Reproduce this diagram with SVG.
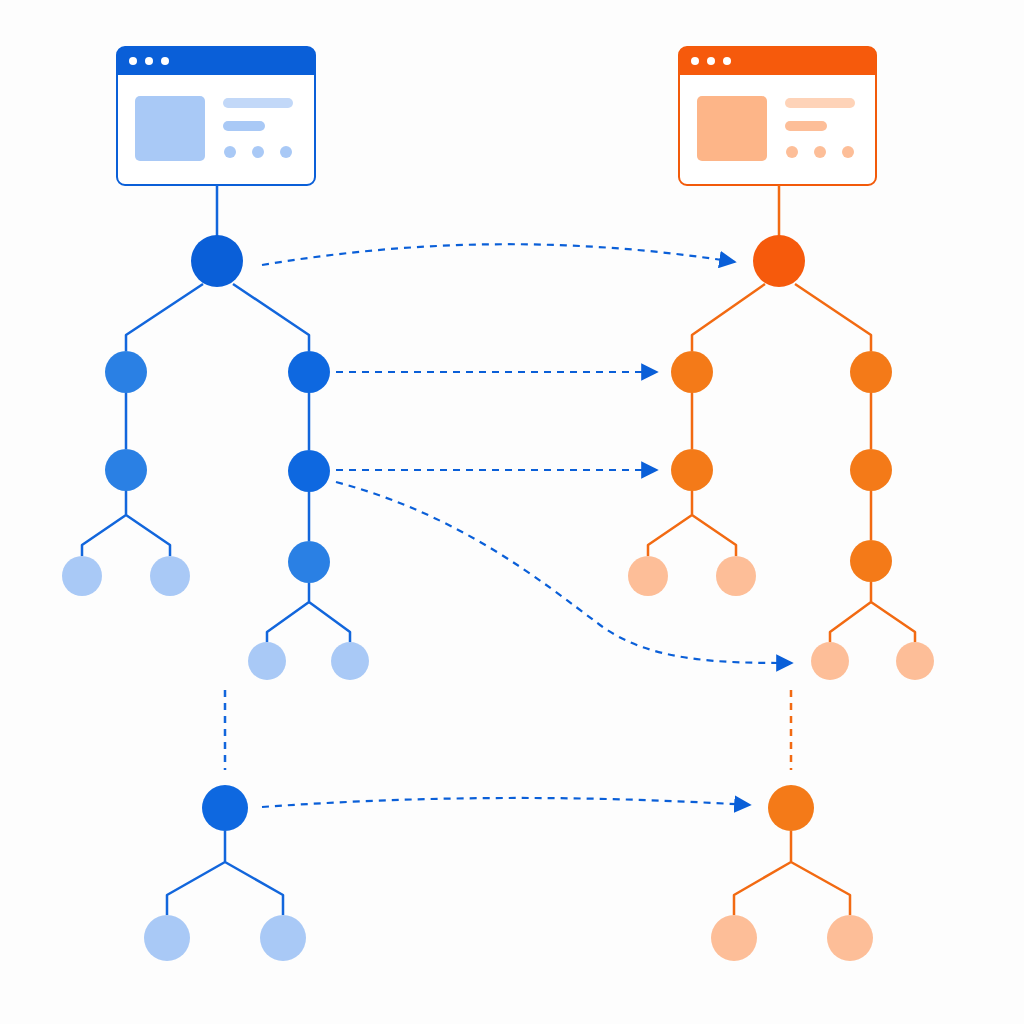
<svg xmlns="http://www.w3.org/2000/svg" width="1024" height="1024" viewBox="0 0 1024 1024">
<defs>
<marker id="ah" viewBox="0 0 10 10" refX="9" refY="5" markerWidth="8" markerHeight="8" orient="auto"><path d="M0,0L10,5L0,10z" fill="#0a5fd8"/></marker>
<style>
.bl{stroke:#1266dc;stroke-width:2.5;fill:none;stroke-linejoin:round}
.ol{stroke:#f26a12;stroke-width:2.5;fill:none;stroke-linejoin:round}
.da{stroke:#0a5fd8;stroke-width:2.2;fill:none;stroke-dasharray:7 6}
.b1{fill:#0a5fd8}.b2{fill:#2a80e4}.b3{fill:#a9c9f6}
.o1{fill:#f65a0c}.o2{fill:#f47a18}.o3{fill:#fdbe98}
</style>
</defs>
<rect width="1024" height="1024" fill="#fdfdfd"/>
<g id="left-window">
<rect x="117" y="47" width="198" height="138" rx="8" fill="#fff" stroke="#0a5fd8" stroke-width="2"/>
<path d="M125,47h182a8,8 0 0 1 8,8v20h-198v-20a8,8 0 0 1 8,-8z" fill="#0a5fd8"/>
<circle cx="133" cy="61" r="4" fill="#fff"/><circle cx="149" cy="61" r="4" fill="#fff"/><circle cx="165" cy="61" r="4" fill="#fff"/>
<rect x="135" y="96" width="70" height="65" rx="5" class="b3"/>
<rect x="223" y="98" width="70" height="10" rx="5" fill="#c2d8f8"/>
<rect x="223" y="121" width="42" height="10" rx="5" class="b3"/>
<circle cx="230" cy="152" r="6" class="b3"/><circle cx="258" cy="152" r="6" class="b3"/><circle cx="286" cy="152" r="6" class="b3"/>
</g>
<g id="right-window">
<rect x="679" y="47" width="197" height="138" rx="8" fill="#fff" stroke="#f25a0a" stroke-width="2"/>
<path d="M687,47h181a8,8 0 0 1 8,8v20h-197v-20a8,8 0 0 1 8,-8z" fill="#f65a0c"/>
<circle cx="695" cy="61" r="4" fill="#fff"/><circle cx="711" cy="61" r="4" fill="#fff"/><circle cx="727" cy="61" r="4" fill="#fff"/>
<rect x="697" y="96" width="70" height="65" rx="5" class="o3" style="fill:#fdb588"/>
<rect x="785" y="98" width="70" height="10" rx="5" fill="#fed3b8"/>
<rect x="785" y="121" width="42" height="10" rx="5" class="o3"/>
<circle cx="792" cy="152" r="6" class="o3"/><circle cx="820" cy="152" r="6" class="o3"/><circle cx="848" cy="152" r="6" class="o3"/>
</g>
<g id="tree-lines">
<path class="bl" d="M217,185V240M203,284L126,335V351M233,284L309,335V351M126,393V449M126,491V515L82,545V556M126,515L170,545V556M309,393V450M309,492V541M309,583V602L267,632V642M309,602L350,632V642M225,831V862L167,895V915M225,862L283,895V915"/>
<path class="bl" d="M225,690V770" stroke-dasharray="7 6" stroke-width="2"/>
<path class="ol" d="M779,185V240M765,284L692,335V351M795,284L871,335V351M692,393V449M692,491V515L648,545V556M692,515L736,545V556M871,393V449M871,491V540M871,582V602L830,632V642M871,602L915,632V642M791,831V862L734,895V915M791,862L850,895V915"/>
<path class="ol" d="M791,690V770" stroke-dasharray="7 6" stroke-width="2"/>
</g>
<g id="connectors">
<path class="da" d="M262,265Q500,225 735,262" marker-end="url(#ah)"/>
<path class="da" d="M336,372H657" marker-end="url(#ah)"/>
<path class="da" d="M336,470H657" marker-end="url(#ah)"/>
<path class="da" d="M336,482C460,515 540,580 600,625C650,662 720,663 792,663" marker-end="url(#ah)"/>
<path class="da" d="M262,807Q500,790 750,805" marker-end="url(#ah)"/>
</g>
<g id="left-nodes">
<circle cx="217" cy="261" r="26" class="b1"/>
<circle cx="126" cy="372" r="21" class="b2"/><circle cx="309" cy="372" r="21" class="b1" style="fill:#0e68e0"/>
<circle cx="126" cy="470" r="21" class="b2"/><circle cx="309" cy="471" r="21" class="b1" style="fill:#0e68e0"/>
<circle cx="309" cy="562" r="21" class="b2"/>
<circle cx="82" cy="576" r="20" class="b3"/><circle cx="170" cy="576" r="20" class="b3"/>
<circle cx="267" cy="661" r="19" class="b3"/><circle cx="350" cy="661" r="19" class="b3"/>
<circle cx="225" cy="808" r="23" class="b1" style="fill:#0e68e0"/>
<circle cx="167" cy="938" r="23" class="b3"/><circle cx="283" cy="938" r="23" class="b3"/>
</g>
<g id="right-nodes">
<circle cx="779" cy="261" r="26" class="o1"/>
<circle cx="692" cy="372" r="21" class="o2"/><circle cx="871" cy="372" r="21" class="o2"/>
<circle cx="692" cy="470" r="21" class="o2"/><circle cx="871" cy="470" r="21" class="o2"/>
<circle cx="871" cy="561" r="21" class="o2"/>
<circle cx="648" cy="576" r="20" class="o3"/><circle cx="736" cy="576" r="20" class="o3"/>
<circle cx="830" cy="661" r="19" class="o3"/><circle cx="915" cy="661" r="19" class="o3"/>
<circle cx="791" cy="808" r="23" class="o2"/>
<circle cx="734" cy="938" r="23" class="o3"/><circle cx="850" cy="938" r="23" class="o3"/>
</g>
</svg>
